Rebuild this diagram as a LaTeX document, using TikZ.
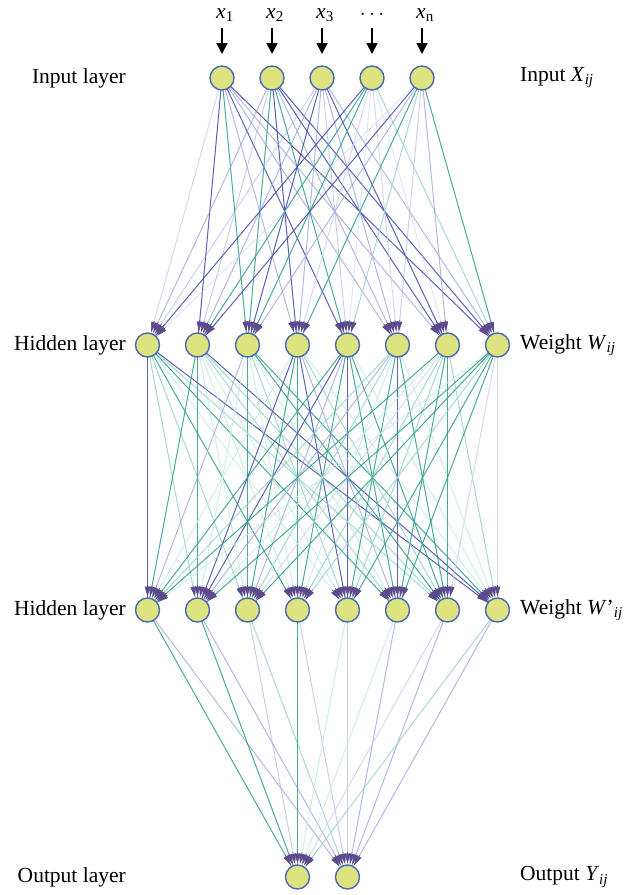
\documentclass[tikz,border=0pt]{standalone}
\usepackage{fontspec}
\setmainfont{Liberation Serif}
\usetikzlibrary{arrows.meta,calc}
\definecolor{nodefill}{HTML}{DCE37F}
\definecolor{nodeline}{HTML}{4A68B5}
\definecolor{tipc}{HTML}{5B4A8C}
\definecolor{cA}{HTML}{4A4FAE}
\definecolor{cB}{HTML}{36A08D}
\definecolor{cC}{HTML}{9AA0DA}
\definecolor{cD}{HTML}{96D3C7}
\definecolor{cE}{HTML}{CBCFEE}
\definecolor{cF}{HTML}{C6E8E1}
\pgfdeclarelayer{bg}\pgfsetlayers{bg,main}
\newcommand\nnedge[3]{%
  \ifcase#3 \def\ec{cA}\def\eo{0.9}%
  \or \def\ec{cB}\def\eo{0.9}%
  \or \def\ec{cC}\def\eo{0.75}%
  \or \def\ec{cD}\def\eo{0.85}%
  \or \def\ec{cE}\def\eo{0.8}%
  \or \def\ec{cF}\def\eo{0.8}%
  \or \def\ec{cC}\def\eo{0.5}%
  \else \def\ec{cE}\def\eo{0.55}\fi
  \draw[draw=\ec,draw opacity=\eo,line width=1pt] (#1) -- (#2);}
\begin{document}
\begin{tikzpicture}[x=1pt,y=-1pt,
  neuron/.style={circle,draw=nodeline,fill=nodefill,line width=1.4pt,minimum size=24pt,inner sep=0pt,outer sep=0pt},
  lbl/.style={font=\fontsize{21.5}{25}\selectfont,inner sep=0pt},
  tipseg/.style={draw=tipc,line width=0.6pt,-{Triangle[length=10pt,width=5.5pt,color=tipc]},shorten >=1.5pt},
  inarrow/.style={line width=1.8pt,-{Triangle[length=11pt,width=11pt]}}]
\useasboundingbox (0,0) rectangle (635,895);
% nodes
\foreach \k in {1,...,5} \node[neuron] (i\k) at ({172+50*\k},78) {};
\foreach \k in {1,...,8} \node[neuron] (h\k) at ({97.5+50*\k},345) {};
\foreach \k in {1,...,8} \node[neuron] (g\k) at ({97.5+50*\k},610) {};
\node[neuron] (o1) at (297.5,877) {};
\node[neuron] (o2) at (347.5,877) {};
% input arrows
\foreach \k in {1,...,5} {
  \coordinate (t\k) at ({172+50*\k},28);
  \draw[inarrow,shorten >=12pt] (t\k) -- (i\k);
}
% input labels
\node[lbl] (x1) at (225,15.5) {\textit{x}\textsubscript{1}};
\node[lbl] (x2) at (275,15.5) {\textit{x}\textsubscript{2}};
\node[lbl] (x3) at (325,15.5) {\textit{x}\textsubscript{3}};
\node[lbl] (x4) at (372,14.5) {$\cdots$};
\node[lbl] (x5) at (425,15.5) {\textit{x}\textsubscript{n}};
% edges
\pgfmathsetseed{4217}
\begin{pgfonlayer}{bg}
\foreach \s in {1,...,5} \foreach \t in {1,...,8} {
  \pgfmathrandominteger{\r}{0}{9}
  \pgfmathtruncatemacro\c{{0,0,0,1,2,2,6,4,7,3}[\r]}
  \nnedge{i\s}{h\t}{\c}
}
\foreach \s in {1,...,8} \foreach \t in {1,...,8} {
  \pgfmathrandominteger{\r}{0}{9}
  \pgfmathtruncatemacro\c{{1,1,1,0,3,3,5,2,4,5}[\r]}
  \nnedge{h\s}{g\t}{\c}
}
\foreach \s in {1,...,8} \foreach \t in {1,2} {
  \pgfmathrandominteger{\r}{0}{9}
  \pgfmathtruncatemacro\c{{0,1,1,2,3,5,6,4,0,3}[\r]}
  \nnedge{g\s}{o\t}{\c}
}
\foreach \s in {1,...,5} \foreach \t in {1,...,8}
  \draw[tipseg] ($(h\t.center)!25pt!(i\s.center)$) -- (h\t);
\foreach \s in {1,...,8} \foreach \t in {1,...,8}
  \draw[tipseg] ($(g\t.center)!25pt!(h\s.center)$) -- (g\t);
\foreach \s in {1,...,8} \foreach \t in {1,2}
  \draw[tipseg] ($(o\t.center)!25pt!(g\s.center)$) -- (o\t);
\end{pgfonlayer}
% side labels
\node[lbl,anchor=east] (L1) at (126,78) {Input layer};
\node[lbl,anchor=east] (L2) at (126,345) {Hidden layer};
\node[lbl,anchor=east] (L3) at (126,610) {Hidden layer};
\node[lbl,anchor=east] (L4) at (126,877) {Output layer};
\node[lbl,anchor=west] (R1) at (520,78) {Input \textit{X}\textsubscript{\textit{ij}}};
\node[lbl,anchor=west] (R2) at (520,345) {Weight \textit{W}\textsubscript{\textit{ij}}};
\node[lbl,anchor=west] (R3) at (520,610) {Weight \textit{W}’\textsubscript{\textit{ij}}};
\node[lbl,anchor=west] (R4) at (520,877) {Output \textit{Y}\textsubscript{\textit{ij}}};
\end{tikzpicture}
\end{document}
